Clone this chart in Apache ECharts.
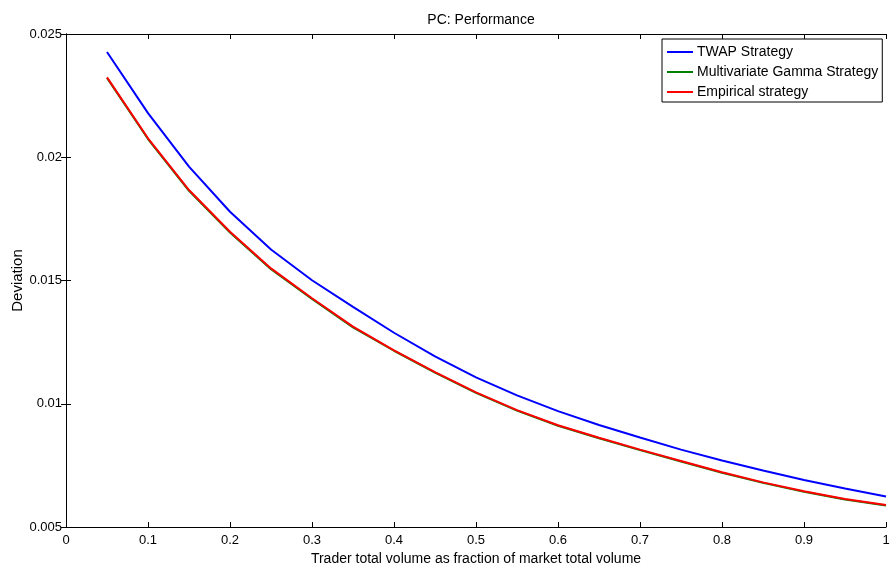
<!DOCTYPE html>
<html>
<head>
<meta charset="utf-8">
<script src="https://cdn.jsdelivr.net/npm/echarts@6/dist/echarts.min.js"></script>
<style>
  html, body { margin: 0; padding: 0; background: #fff; }
  #chart { width: 890px; height: 568px; }
</style>
</head>
<body>
<div id="chart"></div>
<script>
// trader volume as fraction of market volume
const fractions = [0.05, 0.1, 0.15, 0.2, 0.25, 0.3, 0.35, 0.4, 0.45, 0.5,
                   0.55, 0.6, 0.65, 0.7, 0.75, 0.8, 0.85, 0.9, 0.95, 1.0];
const twap = [0.02427, 0.02179, 0.01962, 0.01779, 0.01626, 0.01501, 0.01393, 0.01288, 0.01192, 0.01107,
              0.01034, 0.00970, 0.00914, 0.00863, 0.00814, 0.00770, 0.00729, 0.00691, 0.00656, 0.00624];
const gamma = [0.02322, 0.02074, 0.01864, 0.01695, 0.01546, 0.01425, 0.01310, 0.01215, 0.01126, 0.01044,
               0.00972, 0.00911, 0.00860, 0.00812, 0.00766, 0.00720, 0.00679, 0.00643, 0.00612, 0.00587];
const empirical = [0.02324, 0.02077, 0.01867, 0.01698, 0.01549, 0.01428, 0.01313, 0.01217, 0.01128, 0.01046,
                   0.00974, 0.00913, 0.00862, 0.00814, 0.00768, 0.00722, 0.00681, 0.00645, 0.00614, 0.00589];
const yTicks = [0.005, 0.01, 0.015, 0.02, 0.025];

const font = 'Liberation Sans, Arial, sans-serif';
const chart = echarts.init(document.getElementById('chart'));

const pairs = ys => fractions.map((x, i) => [x, ys[i]]);

function lineSeries(name, ys, color) {
  return {
    name: name,
    type: 'line',
    data: pairs(ys),
    symbol: 'none',
    smooth: false,
    lineStyle: { color: color, width: 2 },
    itemStyle: { color: color },
    animation: false
  };
}

const tickStyle = { show: true, inside: true, length: 5, lineStyle: { color: '#000', width: 1 } };
const lineAxis = { show: true, lineStyle: { color: '#000', width: 1 } };

chart.setOption({
  backgroundColor: '#fff',
  animation: false,
  title: {
    text: 'PC: Performance',
    left: 476, top: 8, textAlign: 'center',
    textStyle: { fontFamily: font, fontSize: 14, fontWeight: 'normal', color: '#000' }
  },
  grid: { left: 66, right: 4, top: 34, bottom: 41, containLabel: false, outerBoundsMode: 'none' },
  legend: {
    orient: 'vertical',
    left: 662, top: 39,
    padding: [5, 4, 2, 5],
    itemGap: 4,
    itemWidth: 26,
    itemHeight: 2,
    icon: 'rect',
    borderColor: '#000',
    borderWidth: 1,
    backgroundColor: '#fff',
    textStyle: { fontFamily: font, fontSize: 14, color: '#000', lineHeight: 16, padding: [0, 0, 0, -1] },
    data: ['TWAP Strategy', 'Multivariate Gamma Strategy', 'Empirical strategy']
  },
  xAxis: [{
    type: 'value', min: 0, max: 1, interval: 0.1,
    position: 'bottom',
    name: 'Trader total volume as fraction of market total volume',
    nameLocation: 'middle', nameGap: 22,
    nameTextStyle: { fontFamily: font, fontSize: 14, color: '#000' },
    axisLine: lineAxis, axisTick: tickStyle,
    axisLabel: { fontFamily: font, fontSize: 13, color: '#000', margin: 7,
                 formatter: v => String(Math.round(v * 10) / 10) },
    splitLine: { show: false }
  }, {
    type: 'value', min: 0, max: 1, interval: 0.1,
    position: 'top',
    axisLine: lineAxis, axisTick: tickStyle,
    axisLabel: { show: false }, splitLine: { show: false }
  }],
  yAxis: [{
    type: 'value', min: yTicks[0], max: yTicks[yTicks.length - 1], interval: 0.005,
    position: 'left',
    name: 'Deviation',
    nameLocation: 'middle', nameGap: 41, nameRotate: 90, nameMoveOverlap: false,
    nameTextStyle: { fontFamily: font, fontSize: 15, color: '#000' },
    axisLine: lineAxis, axisTick: tickStyle,
    axisLabel: { fontFamily: font, fontSize: 13, color: '#000', margin: 4,
                 formatter: v => String(Math.round(v * 1000) / 1000) },
    splitLine: { show: false }
  }, {
    type: 'value', min: yTicks[0], max: yTicks[yTicks.length - 1], interval: 0.005,
    position: 'right',
    axisLine: lineAxis, axisTick: tickStyle,
    axisLabel: { show: false }, splitLine: { show: false }
  }],
  series: [
    lineSeries('TWAP Strategy', twap, '#0000ff'),
    lineSeries('Multivariate Gamma Strategy', gamma, '#008000'),
    lineSeries('Empirical strategy', empirical, '#ff0000')
  ]
});
</script>
</body>
</html>
